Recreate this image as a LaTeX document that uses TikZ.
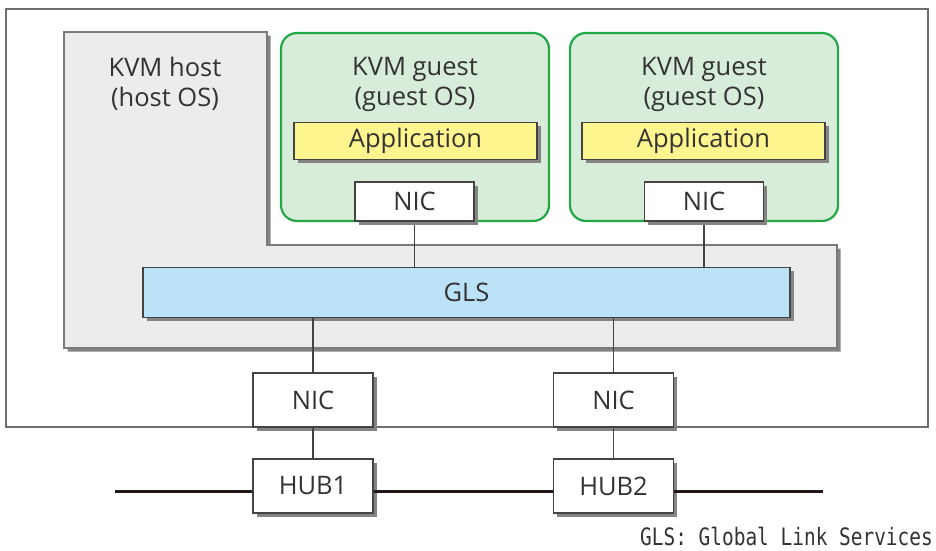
\documentclass[tikz,border=0pt]{standalone}
\usepackage{fontspec}
\setmainfont{Open Sans}
\newfontfamily\footfont[FakeStretch=0.81]{DejaVu Sans Mono}
\usetikzlibrary{shadows}
\definecolor{outerc}{HTML}{6E6E6E}
\definecolor{hostfill}{HTML}{ECECEC}
\definecolor{hostline}{HTML}{7A7A7A}
\definecolor{guestfill}{HTML}{D7EDD9}
\definecolor{guestline}{HTML}{22A847}
\definecolor{appfill}{HTML}{FFF58E}
\definecolor{glsfill}{HTML}{BCE2F7}
\definecolor{shadowc}{HTML}{848484}
\definecolor{inkc}{HTML}{333333}
\definecolor{wirec}{HTML}{444444}
\definecolor{busc}{HTML}{231815}
\tikzset{
  shad/.style={drop shadow={shadow xshift=3.5pt,shadow yshift=-3.5pt,fill=shadowc,opacity=1}},
  boxbase/.style={draw=wirec,line width=1.2pt,text=inkc,font=\fontsize{25.5}{30}\selectfont,inner sep=0pt,shad},
  nicbox/.style={boxbase,fill=white,minimum width=119pt,minimum height=39pt},
  hostnic/.style={boxbase,fill=white,minimum width=120pt,minimum height=54pt},
  appbox/.style={boxbase,fill=appfill,minimum width=243pt,minimum height=37pt},
  glsbox/.style={boxbase,fill=glsfill,minimum width=647pt,minimum height=50pt},
  guestbox/.style={draw=guestline,line width=2.2pt,fill=guestfill,rounded corners=16pt,minimum width=268pt,minimum height=188pt,inner sep=0pt},
  lbl/.style={text=inkc,font=\fontsize{25.5}{30}\selectfont,align=center,inner sep=0pt},
  wire/.style={draw=wirec,line width=1.1pt},
  bus/.style={draw=busc,line width=3pt}
}
\begin{document}
\begin{tikzpicture}[x=1pt,y=-1pt]
\useasboundingbox (0,0) rectangle (936,550);
% outer frame
\draw[outerc,line width=1.5pt] (6,9) rectangle (928,427);
% host (L-shape)
\draw[hostline,line width=1.1pt,fill=hostfill,shad]
  (64,32) -- (267,32) -- (267,245) -- (837,245) -- (837,348) -- (64,348) -- cycle;
\node[lbl] (hostlbl) at (165,84) {KVM host\\(host OS)};
% guests
\node[guestbox] (guest1) at (415,127) {};
\node[guestbox] (guest2) at (704,127) {};
\node[lbl] (g1lbl) at (415,84) {KVM guest\\(guest OS)};
\node[lbl] (g2lbl) at (704,84) {KVM guest\\(guest OS)};
\node[appbox] (app1) at (415.5,141) {Application};
\node[appbox] (app2) at (703.5,141) {Application};
% GLS
\node[glsbox] (gls) at (466.5,292.5) {GLS};
% connectors
\coordinate (gnic1c) at (414.5,201.5);
\coordinate (gnic2c) at (704,201.5);
\draw[wire] (gnic1c) -- (gnic1c |- gls.north);
\draw[wire] (gnic2c) -- (gnic2c |- gls.north);
\node[nicbox] (gnic1) at (gnic1c) {NIC};
\node[nicbox] (gnic2) at (gnic2c) {NIC};
% host NICs and hubs
\node[hostnic] (hnic1) at (313,400) {NIC};
\node[hostnic] (hnic2) at (613.5,400) {NIC};
\node[hostnic] (hub1) at (313,486) {HUB1};
\node[hostnic] (hub2) at (613.5,486) {HUB2};
\draw[wire] (hnic1.north |- gls.south) -- (hnic1.north);
\draw[wire] (hnic2.north |- gls.south) -- (hnic2.north);
\draw[wire] (hnic1.south) -- (hub1.north);
\draw[wire] (hnic2.south) -- (hub2.north);
% bus
\coordinate (busl) at (115,491);
\coordinate (busr) at (823,491);
\draw[bus] (busl) -- (busl -| hub1.west);
\draw[bus] (hub1.east |- busl) -- (hub2.west |- busl);
\draw[bus] (hub2.east |- busr) -- (busr);
% footnote
\node[anchor=base east,inner sep=0pt,text=inkc,font=\footfont\fontsize{24}{28}\selectfont] (foot) at (933,545) {GLS: Global Link Services};
\end{tikzpicture}
\end{document}
